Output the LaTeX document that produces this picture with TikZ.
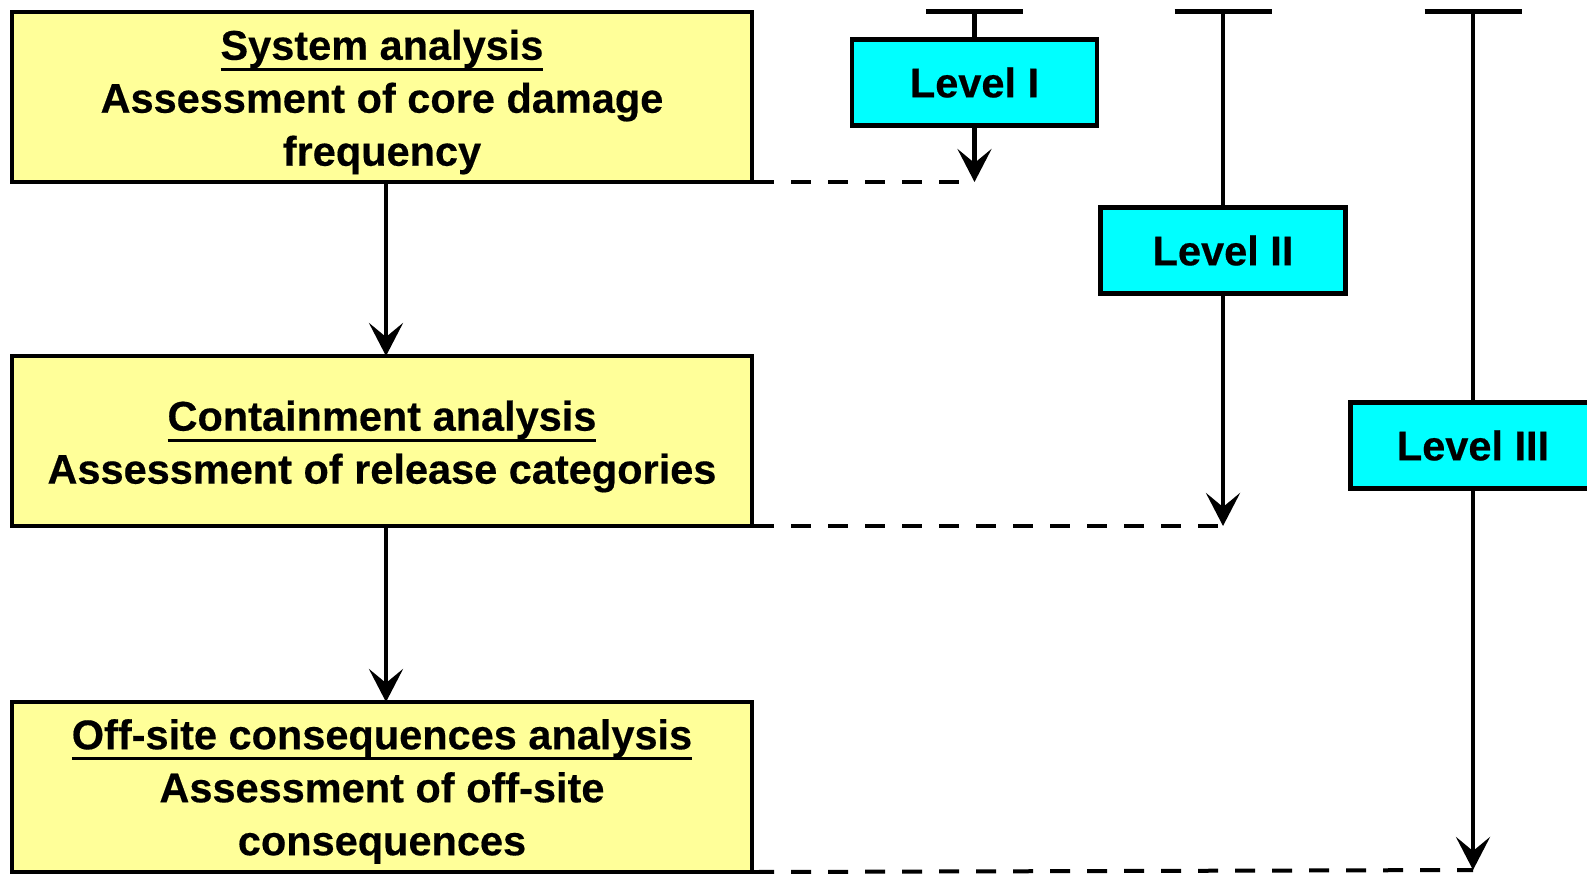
\documentclass[tikz,border=0pt]{standalone}
\usepackage{fontspec}
\setmainfont{Liberation Sans}[BoldFeatures={FakeBold=0.4}]
\usetikzlibrary{arrows.meta}
\definecolor{boxyellow}{RGB}{255,255,153}
\definecolor{levelcyan}{RGB}{0,255,255}
% heading with a thick rule beneath it
\newcommand\headline[1]{\setbox0\hbox{#1}\rlap{\rule[-11pt]{\wd0}{3pt}}\box0}
\begin{document}
\begin{tikzpicture}[x=1pt,y=-1pt,
  txt/.style={font=\fontsize{41.5}{53}\selectfont\bfseries},
  stage/.style={draw, line width=4.5pt, fill=boxyellow, minimum width=740pt,
    minimum height=170pt, inner sep=0pt, outer sep=0pt},
  stagetext/.style={txt, align=center, inner sep=0pt},
  level/.style={txt, draw, line width=4.5pt, fill=levelcyan, minimum width=245pt,
    minimum height=86pt, inner sep=0pt, outer sep=0pt},
  flow/.style={line width=4.5pt, -{Stealth[length=33pt,width=34pt,inset=14pt]}},
  link/.style={line width=4pt, dash pattern=on 20pt off 17pt},
  stem/.style={line width=4.5pt},
  bar/.style={line width=5pt}]
\useasboundingbox (0,0) rectangle (1587,873);

% analysis stages
\node[stage] (sys) at (382,97) {};
\node[stage] (cont) at (382,441) {};
\node[stage] (off) at (382,787) {};
\node[stagetext] (systxt) at ([yshift=-5pt]sys.center)
  {\headline{System analysis}\\Assessment of core damage\\frequency};
\node[stagetext] (conttxt) at ([yshift=-5.5pt]cont.center)
  {\headline{Containment analysis}\\Assessment of release categories};
\node[stagetext] (offtxt) at ([yshift=-4.5pt]off.center)
  {\headline{Off-site consequences analysis}\\Assessment of off-site\\consequences};

\draw[flow] ([xshift=4pt]sys.south) -- ([xshift=4pt]cont.north);
\draw[flow] ([xshift=4pt]cont.south) -- ([xshift=4pt]off.north);

% PSA levels
\node[level] (l1) at (974.5,82.5) {Level I};
\node[level] (l2) at (1223,250.5) {Level II};
\node[level] (l3) at (1473,445.5) {Level III};

\coordinate (t1) at (974.5,11);
\coordinate (t2) at (1223,11);
\coordinate (t3) at (1473,11);
\coordinate (e1) at (974.5,182);
\coordinate (e2) at (1223,526);
\coordinate (e3) at (1473,870);

\foreach \t in {t1,t2,t3}
  \draw[bar] ([xshift=-48.5pt]\t) -- ([xshift=48.5pt]\t);

\draw[stem] (t1) -- (l1.north);
\draw[stem] (t2) -- (l2.north);
\draw[stem] (t3) -- (l3.north);

\draw[flow] (l1.south) -- (e1);
\draw[flow] (l2.south) -- (e2);
\draw[flow] (l3.south) -- (e3);

\draw[link] ([xshift=2pt]sys.south east) -- (e1);
\draw[link] ([xshift=2pt]cont.south east) -- (e2);
\draw[link] ([xshift=2pt]off.south east) -- (e3);
\end{tikzpicture}
\end{document}
